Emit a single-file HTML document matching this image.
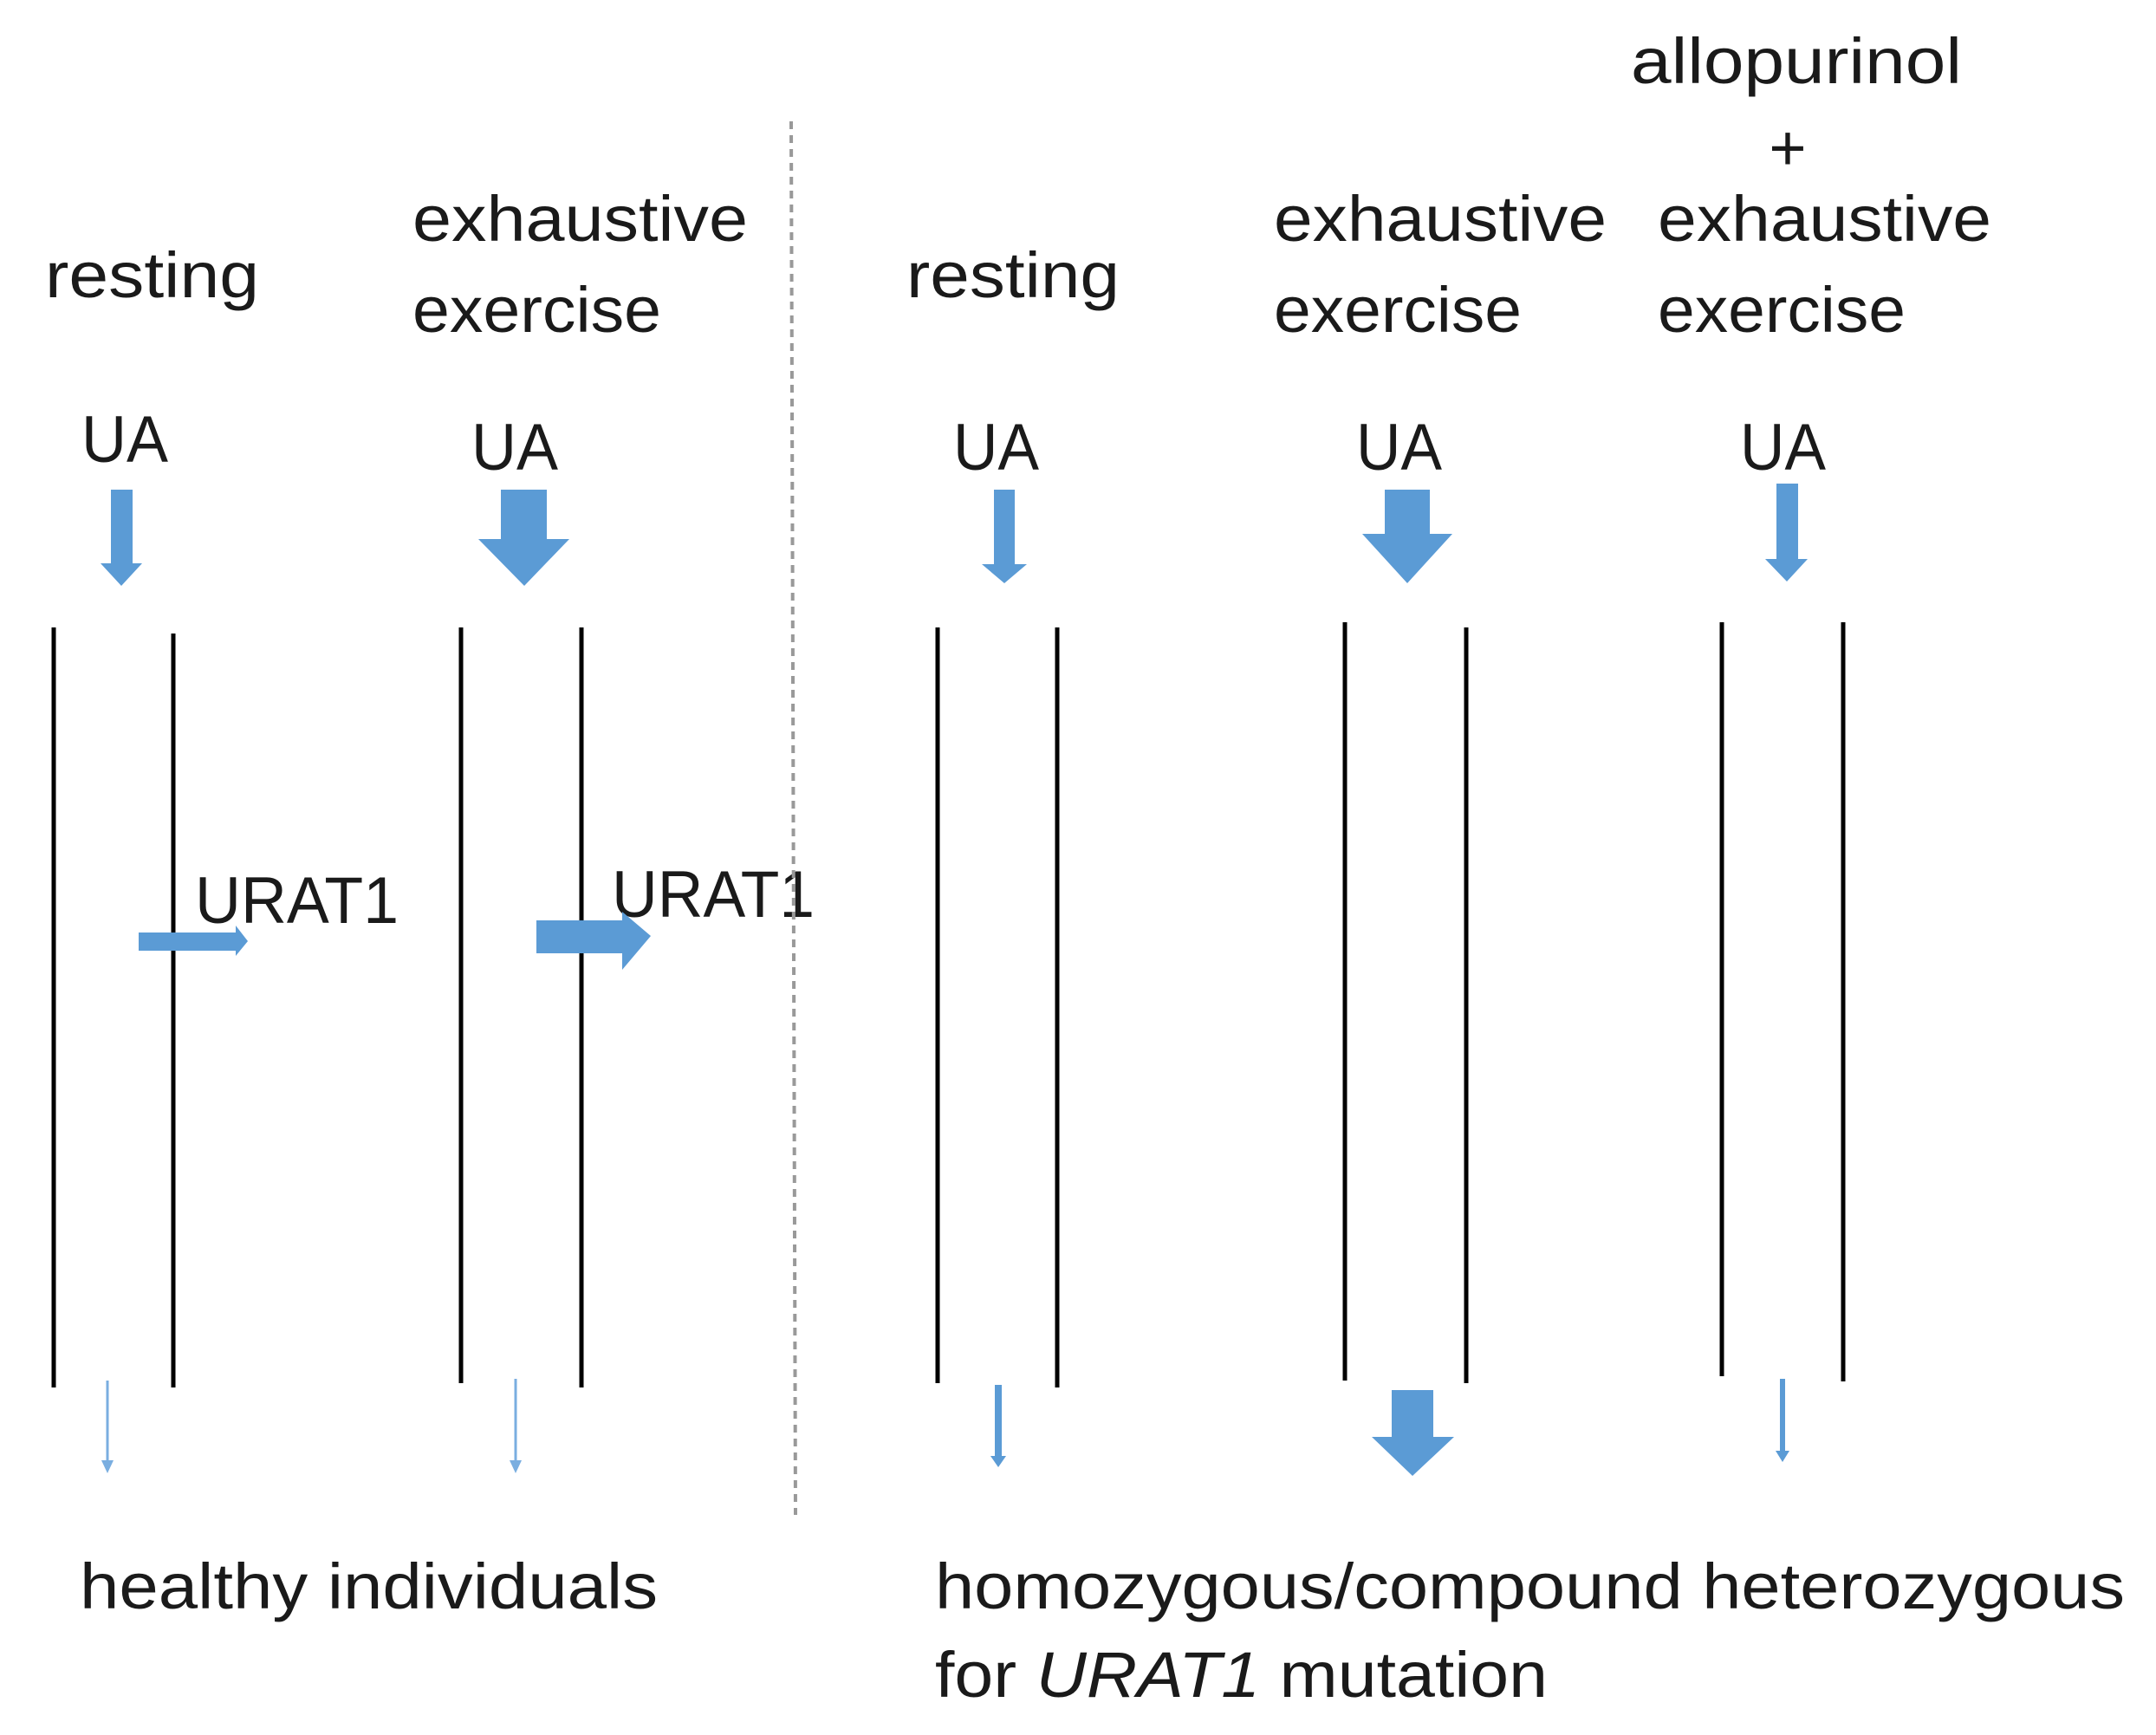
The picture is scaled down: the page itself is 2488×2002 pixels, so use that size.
<!DOCTYPE html>
<html><head><meta charset="utf-8"><style>
html,body{margin:0;padding:0;background:#fff;}
svg{display:block;}
text{font-family:"Liberation Sans",sans-serif;fill:#1a1a1a;}
</style></head><body>
<svg width="2488" height="2002" viewBox="0 0 2488 2002" xmlns="http://www.w3.org/2000/svg">
<rect width="2488" height="2002" fill="#fff"/>
<g font-size="74">
<text x="52" y="343" textLength="247" lengthAdjust="spacingAndGlyphs">resting</text>
<text x="476" y="278" textLength="387" lengthAdjust="spacingAndGlyphs">exhaustive</text>
<text x="476" y="383" textLength="287" lengthAdjust="spacingAndGlyphs">exercise</text>
<text x="1046" y="343" textLength="246" lengthAdjust="spacingAndGlyphs">resting</text>
<text x="1470" y="278" textLength="384" lengthAdjust="spacingAndGlyphs">exhaustive</text>
<text x="1470" y="383" textLength="286" lengthAdjust="spacingAndGlyphs">exercise</text>
<text x="1882" y="96" textLength="382" lengthAdjust="spacingAndGlyphs">allopurinol</text>
<text x="2063" y="196" text-anchor="middle">+</text>
<text x="1913" y="278" textLength="385" lengthAdjust="spacingAndGlyphs">exhaustive</text>
<text x="1913" y="383" textLength="286" lengthAdjust="spacingAndGlyphs">exercise</text>
</g>
<g font-size="76">
<text x="94" y="533" textLength="100" lengthAdjust="spacingAndGlyphs">UA</text>
<text x="544" y="542" textLength="100" lengthAdjust="spacingAndGlyphs">UA</text>
<text x="1100" y="542" textLength="99" lengthAdjust="spacingAndGlyphs">UA</text>
<text x="1565" y="542" textLength="99" lengthAdjust="spacingAndGlyphs">UA</text>
<text x="2008" y="542" textLength="99" lengthAdjust="spacingAndGlyphs">UA</text>
<text x="225" y="1065" textLength="235" lengthAdjust="spacingAndGlyphs">URAT1</text>
<text x="706" y="1058" textLength="234" lengthAdjust="spacingAndGlyphs">URAT1</text>
</g>
<g font-size="74">
<text x="92" y="1856" textLength="667" lengthAdjust="spacingAndGlyphs">healthy individuals</text>
<text x="1079" y="1856" textLength="1373" lengthAdjust="spacingAndGlyphs">homozygous/compound heterozygous</text>
<text x="1079" y="1958" textLength="707" lengthAdjust="spacingAndGlyphs">for <tspan font-style="italic">URAT1</tspan> mutation</text>
</g>
<!-- divider -->
<line x1="913" y1="140" x2="918" y2="1748" stroke="#999" stroke-width="4" stroke-dasharray="9,7"/>
<!-- membranes -->
<g stroke="#000" stroke-width="5">
<line x1="62" y1="724" x2="62" y2="1601"/>
<line x1="200" y1="731" x2="200" y2="1601"/>
<line x1="532" y1="724" x2="532" y2="1596"/>
<line x1="671" y1="724" x2="671" y2="1601"/>
<line x1="1082" y1="724" x2="1082" y2="1596"/>
<line x1="1220" y1="724" x2="1220" y2="1601"/>
<line x1="1552" y1="718" x2="1552" y2="1593"/>
<line x1="1692" y1="724" x2="1692" y2="1596"/>
<line x1="1987" y1="718" x2="1987" y2="1588"/>
<line x1="2127" y1="718" x2="2127" y2="1594"/>
</g>
<g fill="#5b9bd5">
<!-- top arrows -->
<polygon points="128,565 153,565 153,650 164,650 140,676 116,650 128,650"/>
<polygon points="578,565 631,565 631,622 657,622 605,676 552,622 578,622"/>
<polygon points="1147,565 1171,565 1171,651 1185,651 1159,673 1133,651 1147,651"/>
<polygon points="1598,565 1650,565 1650,616 1676,616 1624,673 1572,616 1598,616"/>
<polygon points="2050,558 2075,558 2075,645 2086,645 2062,671 2037,645 2050,645"/>
<!-- URAT1 arrows -->
<polygon points="160,1076 272,1076 272,1068 286,1086 272,1103 272,1097 160,1097"/>
<polygon points="619,1062 718,1062 718,1052 751,1080 718,1119 718,1100 619,1100"/>
<!-- bottom arrows -->
<rect x="1148" y="1598" width="8" height="85"/>
<polygon points="1143,1680 1161,1680 1152,1693"/>
<polygon points="1606,1604 1654,1604 1654,1658 1678,1658 1630,1703 1583,1658 1606,1658"/>
<rect x="2054" y="1591" width="6" height="86"/>
<polygon points="2049,1674 2065,1674 2057,1687"/>
</g>
<g fill="#7aaee0" stroke="#7aaee0">
<line x1="124" y1="1593" x2="124" y2="1688" stroke-width="3"/>
<polygon points="117,1685 131,1685 124,1700" stroke="none"/>
<line x1="595" y1="1591" x2="595" y2="1688" stroke-width="3"/>
<polygon points="588,1685 602,1685 595,1700" stroke="none"/>
</g>
</svg>
</body></html>
